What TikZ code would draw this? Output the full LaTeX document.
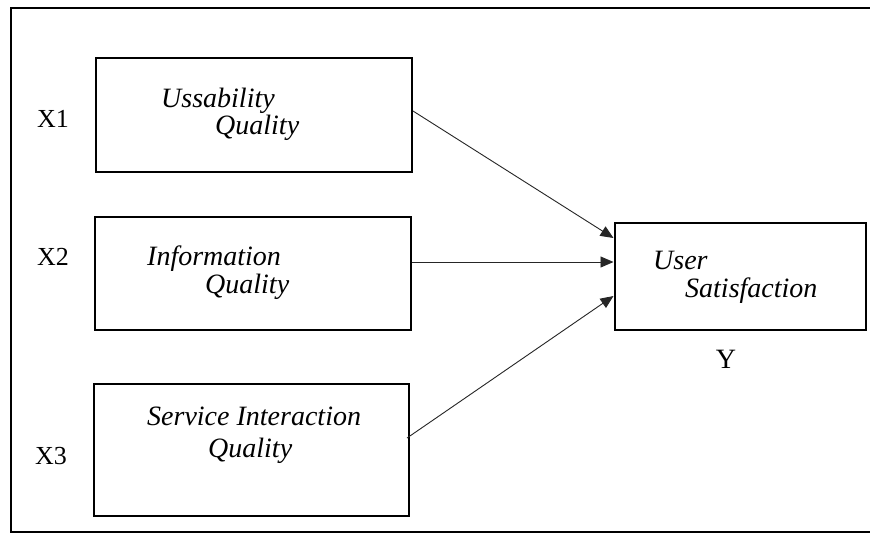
\documentclass[tikz,border=0pt]{standalone}
\usepackage{fontspec}
\setmainfont{Liberation Serif}
\usetikzlibrary{arrows.meta}
\tikzset{
  varbox/.style={draw=black, line width=2pt, rectangle, inner sep=0pt},
  itxt/.style={anchor=base west, inner sep=0pt, font=\fontsize{28}{32}\selectfont\itshape},
  lbl/.style={anchor=base, inner sep=0pt, font=\fontsize{26}{30}\selectfont},
  ylbl/.style={anchor=base, inner sep=0pt, font=\fontsize{28}{32}\selectfont},
  link/.style={draw=black!85, line width=0.9pt, -{Triangle[length=13pt,width=11pt]}}
}
\begin{document}
\begin{tikzpicture}[x=1pt,y=-1pt]
\useasboundingbox (0,0) rectangle (870,542);
\fill[white] (0,0) rectangle (870,542);
% outer frame (right side outside the picture)
\draw[line width=2pt] (875,8) -- (11,8) -- (11,532) -- (875,532);

% boxes
\node[varbox, minimum width=316pt, minimum height=114pt] (box1) at (254,115) {};
\node[varbox, minimum width=316pt, minimum height=113pt] (box2) at (253,273.5) {};
\node[varbox, minimum width=315pt, minimum height=132pt] (box3) at (251.5,449.5) {};
\node[varbox, minimum width=251pt, minimum height=107pt] (boxY) at (740,276.5) {};

% texts
\node[itxt] (t1a) at (161,107) {Ussability};
\node[itxt] (t1b) at (215,134) {Quality};
\node[itxt] (t2a) at (147,265) {Information};
\node[itxt] (t2b) at (205,293) {Quality};
\node[itxt] (t3a) at (147,425) {Service Interaction};
\node[itxt] (t3b) at (208,457) {Quality};
\node[itxt] (tya) at (653,269) {User};
\node[itxt] (tyb) at (685,297) {Satisfaction};

% labels
\node[lbl] (x1) at (53,127) {X1};
\node[lbl] (x2) at (53,265) {X2};
\node[lbl] (x3) at (51,464) {X3};
\node[ylbl] (ylab) at (726,368) {Y};

% arrows
\draw[link] ([yshift=4pt]box1.east) -- ([yshift=38.5pt]boxY.west);
\draw[link] ([yshift=11.5pt]box2.east) -- ([yshift=14.5pt]boxY.west);
\draw[link] ([yshift=11.5pt,xshift=-3pt]box3.east) -- ([yshift=-19.5pt]boxY.west);
\end{tikzpicture}
\end{document}
